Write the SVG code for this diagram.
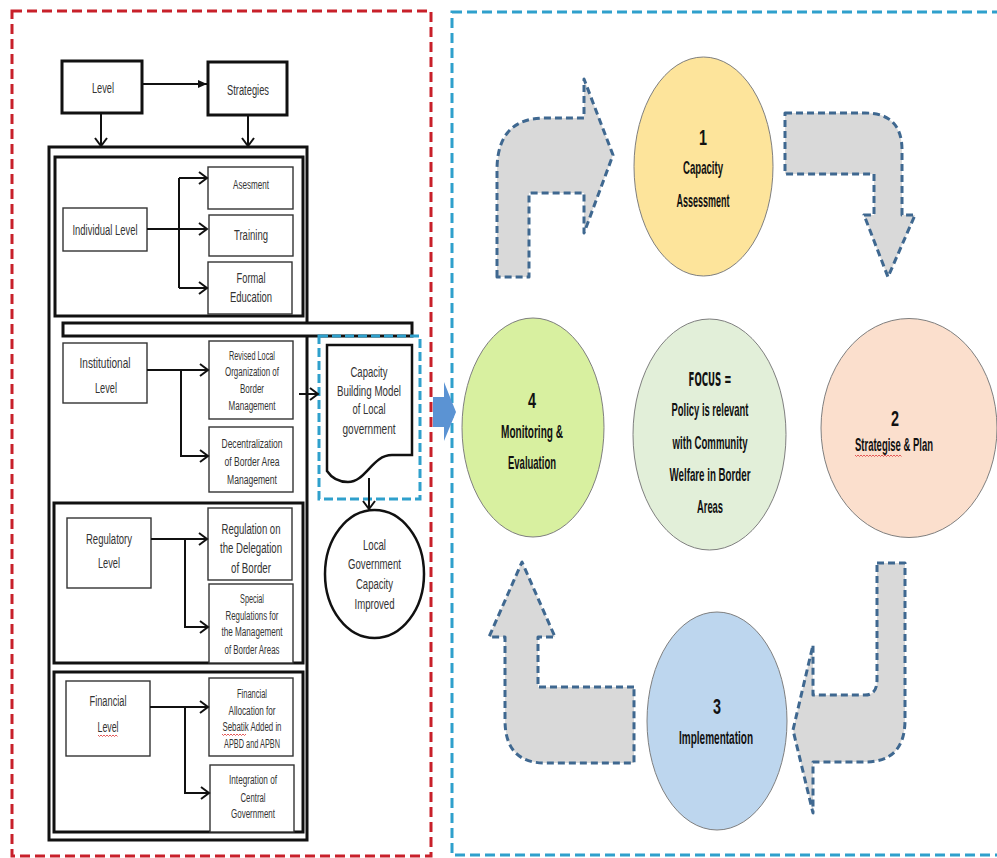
<svg xmlns="http://www.w3.org/2000/svg" width="997" height="858" viewBox="0 0 997 858">
<style>
  .thick{fill:#fff;stroke:#111;stroke-width:3}
  .thin{fill:#fff;stroke:#333;stroke-width:1.4}
  .conn{fill:none;stroke:#111;stroke-width:2}
  .lt{font-family:"Liberation Sans",Arial,sans-serif;fill:#333;text-anchor:middle}
  .s12{font-size:14px}
  .s10{font-size:12px}
  .rt{font-family:"Liberation Sans",Arial,sans-serif;font-weight:bold;fill:#111;text-anchor:middle}
  .bent{fill:#d9d9d9;stroke:#3f6890;stroke-width:3;stroke-dasharray:7 4;stroke-linejoin:round}
  .circ{stroke:#7f7f7f;stroke-width:1}
  .sq{fill:none;stroke:#e04848;stroke-width:0.9}
</style>
<defs>
  <marker id="open" markerUnits="userSpaceOnUse" markerWidth="12" markerHeight="14" refX="9" refY="7" orient="auto">
    <path d="M1,1 L9,7 L1,13" fill="none" stroke="#111" stroke-width="2"/>
  </marker>
  <marker id="solid" markerUnits="userSpaceOnUse" markerWidth="10" markerHeight="10" refX="9" refY="5" orient="auto">
    <path d="M0,1 L9,5 L0,9 Z" fill="#111"/>
  </marker>
</defs>
<rect width="997" height="858" fill="#fff"/>

<!-- panel borders -->
<rect x="12" y="11" width="419" height="845" fill="none" stroke="#c8202a" stroke-width="3" stroke-dasharray="10 5"/>
<rect x="452" y="12" width="560" height="843" fill="none" stroke="#2fa0cc" stroke-width="3" stroke-dasharray="10 5"/>

<!-- left panel containers -->
<g id="outer-frame"><rect class="thick" x="49" y="147" width="258" height="693"/></g>
<g id="individual-group"><rect class="thick" x="55" y="157" width="248" height="159"/></g>
<g id="bar"><rect class="thick" x="63" y="323" width="349" height="13"/></g>
<g id="regulatory-group"><rect class="thick" x="54" y="503" width="249" height="160"/></g>
<g id="financial-group"><rect class="thick" x="54" y="672" width="249" height="160"/></g>

<g id="level"><rect class="thick" x="62" y="61" width="80" height="52"/>
  <text class="lt s12" x="103" y="93" textLength="22" lengthAdjust="spacingAndGlyphs">Level</text></g>
<g id="strategies"><rect class="thick" x="208" y="62" width="79" height="53"/>
  <text class="lt s12" x="248" y="95" textLength="42" lengthAdjust="spacingAndGlyphs">Strategies</text></g>

<g id="individual-level"><rect class="thin" x="63" y="208" width="84" height="43"/>
  <text class="lt s12" x="105" y="235" textLength="65" lengthAdjust="spacingAndGlyphs">Individual Level</text></g>
<g id="asesment"><rect class="thin" x="208" y="167" width="85" height="42"/>
  <text class="lt s10" x="251" y="189" textLength="36" lengthAdjust="spacingAndGlyphs">Asesment</text></g>
<g id="training"><rect class="thin" x="209" y="215" width="84" height="41"/>
  <text class="lt s12" x="251" y="240" textLength="34" lengthAdjust="spacingAndGlyphs">Training</text></g>
<g id="formal-education"><rect class="thin" x="208" y="262" width="84" height="52"/>
  <text class="lt s12" x="251" y="283" textLength="29" lengthAdjust="spacingAndGlyphs">Formal</text>
  <text class="lt s12" x="251" y="302" textLength="42" lengthAdjust="spacingAndGlyphs">Education</text></g>

<g id="institutional-level"><rect class="thin" x="63" y="343" width="84" height="60"/>
  <text class="lt s12" x="105" y="368" textLength="51" lengthAdjust="spacingAndGlyphs">Institutional</text>
  <text class="lt s12" x="106" y="393" textLength="22" lengthAdjust="spacingAndGlyphs">Level</text></g>
<g id="revised"><rect class="thin" x="209" y="341" width="84" height="78"/>
  <text class="lt s10" x="252" y="360" textLength="46" lengthAdjust="spacingAndGlyphs">Revised Local</text>
  <text class="lt s10" x="252" y="376" textLength="54" lengthAdjust="spacingAndGlyphs">Organization of</text>
  <text class="lt s10" x="252" y="393" textLength="24" lengthAdjust="spacingAndGlyphs">Border</text>
  <text class="lt s10" x="252" y="410" textLength="47" lengthAdjust="spacingAndGlyphs">Management</text></g>
<g id="decentralization"><rect class="thin" x="209" y="427" width="84" height="65"/>
  <text class="lt s10" x="252" y="448" textLength="61" lengthAdjust="spacingAndGlyphs">Decentralization</text>
  <text class="lt s10" x="252" y="466" textLength="55" lengthAdjust="spacingAndGlyphs">of Border Area</text>
  <text class="lt s10" x="252" y="484" textLength="50" lengthAdjust="spacingAndGlyphs">Management</text></g>

<g id="regulatory-level"><rect class="thin" x="67" y="518" width="84" height="70"/>
  <text class="lt s12" x="109" y="544" textLength="46" lengthAdjust="spacingAndGlyphs">Regulatory</text>
  <text class="lt s12" x="109" y="568" textLength="22" lengthAdjust="spacingAndGlyphs">Level</text></g>
<g id="regulation-delegation"><rect class="thin" x="208" y="508" width="84" height="72"/>
  <text class="lt s12" x="251" y="534" textLength="59" lengthAdjust="spacingAndGlyphs">Regulation on</text>
  <text class="lt s12" x="251" y="553" textLength="62" lengthAdjust="spacingAndGlyphs">the Delegation</text>
  <text class="lt s12" x="251" y="573" textLength="40" lengthAdjust="spacingAndGlyphs">of Border</text></g>
<g id="special-regulations"><rect class="thin" x="209" y="584" width="84" height="79"/>
  <text class="lt s10" x="252" y="603" textLength="24" lengthAdjust="spacingAndGlyphs">Special</text>
  <text class="lt s10" x="252" y="620" textLength="53" lengthAdjust="spacingAndGlyphs">Regulations for</text>
  <text class="lt s10" x="252" y="636" textLength="61" lengthAdjust="spacingAndGlyphs">the Management</text>
  <text class="lt s10" x="252" y="654" textLength="55" lengthAdjust="spacingAndGlyphs">of Border Areas</text></g>

<g id="financial-level"><rect class="thin" x="66" y="681" width="84" height="75"/>
  <text class="lt s12" x="108" y="706" textLength="37" lengthAdjust="spacingAndGlyphs">Financial</text>
  <text class="lt s12" x="108" y="732" textLength="21" lengthAdjust="spacingAndGlyphs">Level</text>
  <path class="sq" d="M98,735 l1.5,1.5 l1.5,-1.5 l1.5,1.5 l1.5,-1.5 l1.5,1.5 l1.5,-1.5 l1.5,1.5 l1.5,-1.5 l1.5,1.5 l1.5,-1.5 l1.5,1.5 l1.5,-1.5 l1.5,1.5"/></g>
<g id="financial-allocation"><rect class="thin" x="209" y="678" width="84" height="78"/>
  <text class="lt s10" x="252" y="698" textLength="30" lengthAdjust="spacingAndGlyphs">Financial</text>
  <text class="lt s10" x="252" y="715" textLength="47" lengthAdjust="spacingAndGlyphs">Allocation for</text>
  <text class="lt s10" x="252" y="731" textLength="59" lengthAdjust="spacingAndGlyphs">Sebatik Added in</text>
  <path class="sq" d="M222,734 l1.5,1.5 l1.5,-1.5 l1.5,1.5 l1.5,-1.5 l1.5,1.5 l1.5,-1.5 l1.5,1.5 l1.5,-1.5 l1.5,1.5 l1.5,-1.5 l1.5,1.5 l1.5,-1.5 l1.5,1.5 l1.5,-1.5 l1.5,1.5 l1.5,-1.5"/>
  <text class="lt s10" x="252" y="748" textLength="56" lengthAdjust="spacingAndGlyphs">APBD and APBN</text></g>
<g id="integration"><rect class="thin" x="210" y="765" width="84" height="67"/>
  <text class="lt s10" x="253" y="784" textLength="48" lengthAdjust="spacingAndGlyphs">Integration of</text>
  <text class="lt s10" x="253" y="802" textLength="25" lengthAdjust="spacingAndGlyphs">Central</text>
  <text class="lt s10" x="253" y="818" textLength="44" lengthAdjust="spacingAndGlyphs">Government</text></g>

<g id="capacity-model">
  <rect x="319" y="336" width="101" height="163" fill="none" stroke="#2fa0cc" stroke-width="3" stroke-dasharray="9 4"/>
  <path d="M327,345 H412 V455 H392 C372,455 366,482 348,482 C338,482 331,477 327,471 Z" fill="#fff" stroke="#111" stroke-width="2.5"/>
  <text class="lt s12" x="369" y="377" textLength="37" lengthAdjust="spacingAndGlyphs">Capacity</text>
  <text class="lt s12" x="369" y="396" textLength="64" lengthAdjust="spacingAndGlyphs">Building Model</text>
  <text class="lt s12" x="369" y="414" textLength="33" lengthAdjust="spacingAndGlyphs">of Local</text>
  <text class="lt s12" x="369" y="434" textLength="53" lengthAdjust="spacingAndGlyphs">government</text>
</g>
<g id="capacity-improved">
  <ellipse cx="374.5" cy="574" rx="49.5" ry="64" fill="#fff" stroke="#111" stroke-width="2.5"/>
  <text class="lt s12" x="374.5" y="550" textLength="23" lengthAdjust="spacingAndGlyphs">Local</text>
  <text class="lt s12" x="374.5" y="569" textLength="53" lengthAdjust="spacingAndGlyphs">Government</text>
  <text class="lt s12" x="374.5" y="589" textLength="37" lengthAdjust="spacingAndGlyphs">Capacity</text>
  <text class="lt s12" x="374.5" y="609" textLength="40" lengthAdjust="spacingAndGlyphs">Improved</text>
</g>

<g id="connectors">
  <line class="conn" x1="143" y1="84" x2="207" y2="84" marker-end="url(#solid)"/>
  <line class="conn" x1="101" y1="113" x2="101" y2="146" marker-end="url(#open)"/>
  <line class="conn" x1="248" y1="115" x2="248" y2="146" marker-end="url(#open)"/>
  <path class="conn" d="M179,178 V288"/>
  <line class="conn" x1="179" y1="178" x2="207" y2="178" marker-end="url(#open)"/>
  <line class="conn" x1="147" y1="229" x2="207" y2="229" marker-end="url(#open)"/>
  <line class="conn" x1="179" y1="288" x2="207" y2="288" marker-end="url(#open)"/>
  <line class="conn" x1="147" y1="370" x2="208" y2="370" marker-end="url(#open)"/>
  <path class="conn" d="M181,370 V456 H208" marker-end="url(#open)"/>
  <line class="conn" x1="299" y1="394" x2="318" y2="394" marker-end="url(#open)"/>
  <line class="conn" x1="369" y1="478" x2="369" y2="509" marker-end="url(#open)"/>
  <line class="conn" x1="151" y1="539" x2="207" y2="539" marker-end="url(#open)"/>
  <path class="conn" d="M185,539 V627 H208" marker-end="url(#open)"/>
  <line class="conn" x1="150" y1="707" x2="208" y2="707" marker-end="url(#open)"/>
  <path class="conn" d="M185,707 V793 H209" marker-end="url(#open)"/>
  <path d="M433,397 L444,397 L444,382 L456,412 L444,441 L444,427 L433,427 Z" fill="#5b93d3"/>
  <path class="bent" d="M497,277 L497,170 Q497,118 545,118 L584,118 L584,79 L613,155 L584,233 L584,193 L529,193 L529,277 Z"/>
  <path class="bent" d="M785,113 L865,113 Q902,113 902,150 L902,215 L915,215 L888,277 L864,215 L874,215 L874,174 L785,174 Z"/>
  <path class="bent" d="M877,563 L905,563 L905,720 Q905,762 865,762 L813,762 L813,813 L793,730 L813,645 L813,695 L865,695 Q877,695 877,680 Z"/>
  <path class="bent" d="M634,687 L538,687 L538,637 L555,637 L522,562 L489,637 L505,637 L505,720 Q505,763 545,763 L634,763 Z"/>
</g>

<g id="step1">
  <ellipse class="circ" cx="703.5" cy="166.5" rx="69.5" ry="109.5" fill="#fde49b"/>
  <text class="rt" x="703" y="145" font-size="22" textLength="8" lengthAdjust="spacingAndGlyphs">1</text>
  <text class="rt" x="703" y="174" font-size="19" textLength="40" lengthAdjust="spacingAndGlyphs">Capacity</text>
  <text class="rt" x="703" y="207" font-size="19" textLength="53" lengthAdjust="spacingAndGlyphs">Assessment</text>
</g>
<g id="step4">
  <ellipse class="circ" cx="533" cy="427.5" rx="71" ry="109.5" fill="#d8f0a0"/>
  <text class="rt" x="532" y="408" font-size="22" textLength="8" lengthAdjust="spacingAndGlyphs">4</text>
  <text class="rt" x="532" y="438" font-size="19" textLength="62" lengthAdjust="spacingAndGlyphs">Monitoring &amp;</text>
  <text class="rt" x="532" y="469" font-size="19" textLength="48" lengthAdjust="spacingAndGlyphs">Evaluation</text>
</g>
<g id="focus">
  <ellipse class="circ" cx="709.5" cy="434.5" rx="76.5" ry="115.5" fill="#e2efd9"/>
  <text class="rt" x="710" y="386" font-size="19" font-weight="900" style="font-family:'DejaVu Sans',sans-serif" textLength="43" lengthAdjust="spacingAndGlyphs">FOCUS =</text>
  <text class="rt" x="710" y="416" font-size="19" textLength="77" lengthAdjust="spacingAndGlyphs">Policy is relevant</text>
  <text class="rt" x="710" y="449" font-size="19" textLength="75" lengthAdjust="spacingAndGlyphs">with Community</text>
  <text class="rt" x="710" y="481" font-size="19" textLength="81" lengthAdjust="spacingAndGlyphs">Welfare in Border</text>
  <text class="rt" x="710" y="513" font-size="19" textLength="26" lengthAdjust="spacingAndGlyphs">Areas</text>
</g>
<g id="step2">
  <ellipse class="circ" cx="909" cy="428" rx="88" ry="109.5" fill="#fbdfcd"/>
  <text class="rt" x="895" y="426" font-size="22" textLength="8" lengthAdjust="spacingAndGlyphs">2</text>
  <text class="rt" x="894" y="451" font-size="19" textLength="78" lengthAdjust="spacingAndGlyphs">Strategise &amp; Plan</text>
  <path class="sq" d="M855,455 l1.5,1.5 l1.5,-1.5 l1.5,1.5 l1.5,-1.5 l1.5,1.5 l1.5,-1.5 l1.5,1.5 l1.5,-1.5 l1.5,1.5 l1.5,-1.5 l1.5,1.5 l1.5,-1.5 l1.5,1.5 l1.5,-1.5 l1.5,1.5 l1.5,-1.5 l1.5,1.5 l1.5,-1.5 l1.5,1.5 l1.5,-1.5 l1.5,1.5 l1.5,-1.5 l1.5,1.5 l1.5,-1.5 l1.5,1.5 l1.5,-1.5 l1.5,1.5 l1.5,-1.5 l1.5,1.5 l1.5,-1.5 l1.5,1.5"/>
</g>
<g id="step3">
  <ellipse class="circ" cx="717" cy="721" rx="70" ry="109" fill="#bdd6ee"/>
  <text class="rt" x="717" y="714" font-size="22" textLength="8" lengthAdjust="spacingAndGlyphs">3</text>
  <text class="rt" x="716" y="744" font-size="19" textLength="74" lengthAdjust="spacingAndGlyphs">Implementation</text>
</g>
</svg>
